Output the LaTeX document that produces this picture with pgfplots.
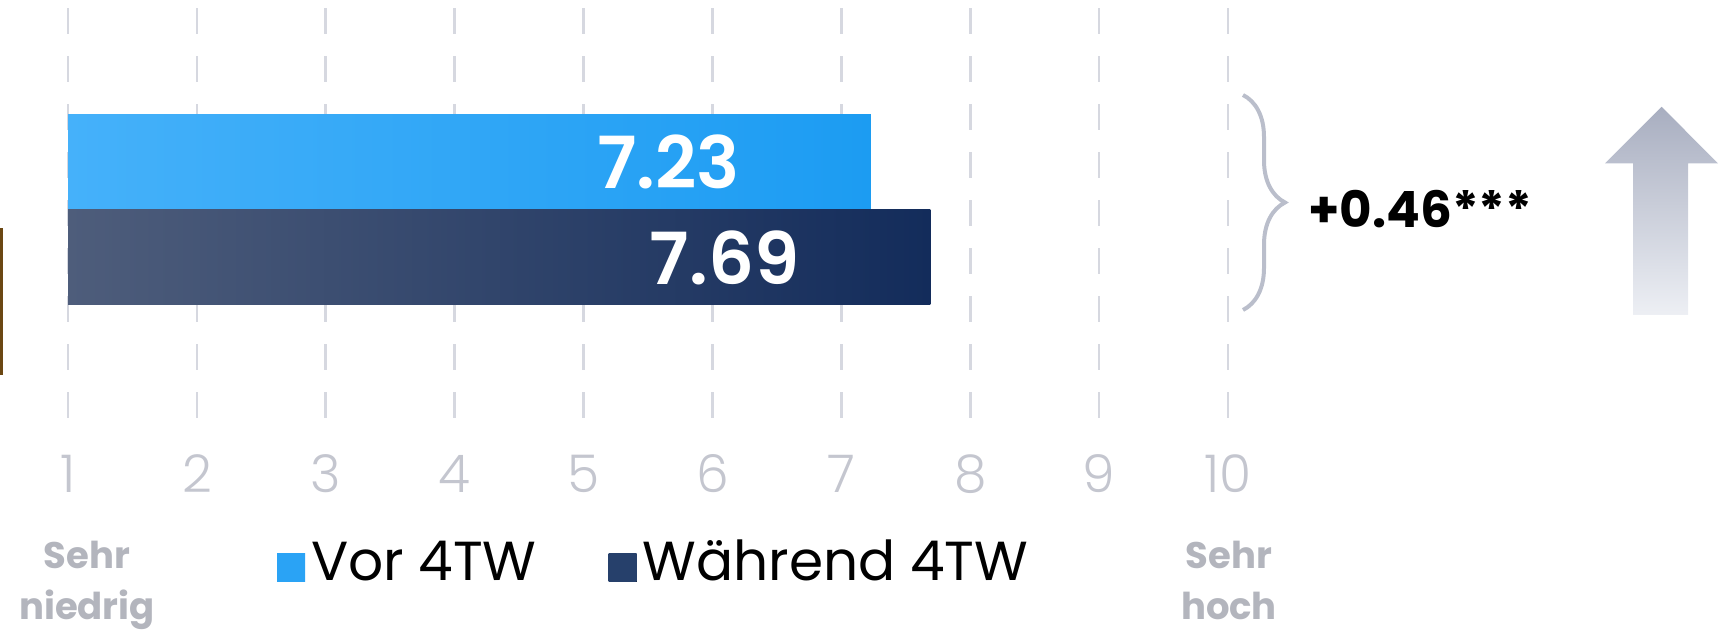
\documentclass[border=0pt]{standalone}
\usepackage{pgfplots}
\pgfplotsset{compat=1.18}
\usepackage{fontspec}
\setmainfont{Poppins}
\newfontfamily\poplight{Poppins Light}
\newfontfamily\popsemi{Poppins SemiBold}
\usetikzlibrary{decorations.pathreplacing}
\definecolor{vorL}{HTML}{45B1FA}
\definecolor{vorR}{HTML}{1C9CF2}
\definecolor{vorS}{HTML}{2AA3F5}
\definecolor{wahL}{HTML}{4E5D7B}
\definecolor{wahR}{HTML}{132C5B}
\definecolor{wahS}{HTML}{26406B}
\definecolor{gridc}{HTML}{D6D8E0}
\definecolor{tickc}{HTML}{C4C6CF}
\definecolor{labc}{HTML}{B3B5BD}
\definecolor{bracec}{HTML}{BABECB}
\definecolor{arrT}{HTML}{A8AEC0}
\definecolor{arrB}{HTML}{EDEFF4}
\definecolor{brownc}{HTML}{6B4713}
\begin{document}
\begin{tikzpicture}
\useasboundingbox (0,0) rectangle (862pt,315pt);
\begin{axis}[
  at={(34pt,106pt)}, anchor=south west,
  scale only axis, width=580pt, height=205pt,
  xmin=1, xmax=10, ymin=-0.681, ymax=3.613,
  xbar, bar width=0.995, bar shift=0pt,
  axis line style={draw=none}, tick style={draw=none}, major tick length=0pt,
  xtick={1,2,3,4,5,6,7,8,9,10},
  xticklabels={1,2,3,4,5,6,7,8,9,10},
  ytick=\empty,
  xmajorgrids,
  grid style={gridc, line width=1.3pt, dash pattern=on 13pt off 11pt},
  xticklabel style={font=\poplight\fontsize{26}{26}\selectfont, text=tickc, anchor=center, yshift=-28pt},
  /pgf/number format/assume math mode=true,
  point meta=x,
  nodes near coords={\pgfmathprintnumber[fixed,fixed zerofill,precision=2,assume math mode=true]{\pgfplotspointmeta}},
  nodes near coords style={anchor=east, xshift=-62pt, text=white, font=\popsemi\fontsize{36}{36}\selectfont},
  legend columns=2,
  legend style={at={(axis description cs:0.1802,-0.3512)}, anchor=west, draw=none, fill=none,
    inner sep=0pt, outer sep=0pt, font=\fontsize{27.5}{27.5}\selectfont,
    nodes={inner xsep=3pt, inner ysep=0pt},
    /tikz/every even column/.append style={column sep=33pt}},
  legend cell align=left,
]
\addplot[draw=none, left color=vorL, right color=vorR,
  legend image code/.code={\fill[left color=vorS, right color=vorS] (0pt,-10pt) rectangle (14pt,4pt);}]
  coordinates {(7.23,2)};
\addlegendentry{Vor 4TW}
\addplot[draw=none, left color=wahL, right color=wahR,
  legend image code/.code={\fill[left color=wahS, right color=wahS] (0pt,-10pt) rectangle (14pt,4pt);}]
  coordinates {(7.69,1)};
\addlegendentry{Während 4TW}
\end{axis}
% scale end labels
\node[anchor=base, inner sep=0pt, font=\bfseries\fontsize{18.5}{18.5}\selectfont, text=labc] at (43.5pt,30.5pt) {Sehr};
\node[anchor=base, inner sep=0pt, font=\bfseries\fontsize{18.5}{18.5}\selectfont, text=labc] at (43.5pt,5pt) {niedrig};
\node[anchor=base, inner sep=0pt, font=\bfseries\fontsize{18.5}{18.5}\selectfont, text=labc] at (614.5pt,30.5pt) {Sehr};
\node[anchor=base, inner sep=0pt, font=\bfseries\fontsize{18.5}{18.5}\selectfont, text=labc] at (614.5pt,5pt) {hoch};
% brace and difference
\draw[bracec, line width=2pt, decorate, decoration={brace, amplitude=21pt, aspect=0.5}] (621.5pt,267.5pt) -- (621.5pt,160pt);
\node[anchor=west, inner sep=0pt, font=\bfseries\fontsize{25}{25}\selectfont] at (654pt,210.5pt) {+0.46***};
% arrow
\shade[top color=arrT, bottom color=arrB] (816.5pt,157.5pt) -- (816.5pt,233.3pt) -- (802.5pt,233.3pt) -- (830.8pt,261.6pt) -- (859pt,233.3pt) -- (844pt,233.3pt) -- (844pt,157.5pt) -- cycle;
% left edge artifact
\fill[brownc] (0pt,127.5pt) rectangle (1.3pt,201pt);
\end{tikzpicture}
\end{document}
